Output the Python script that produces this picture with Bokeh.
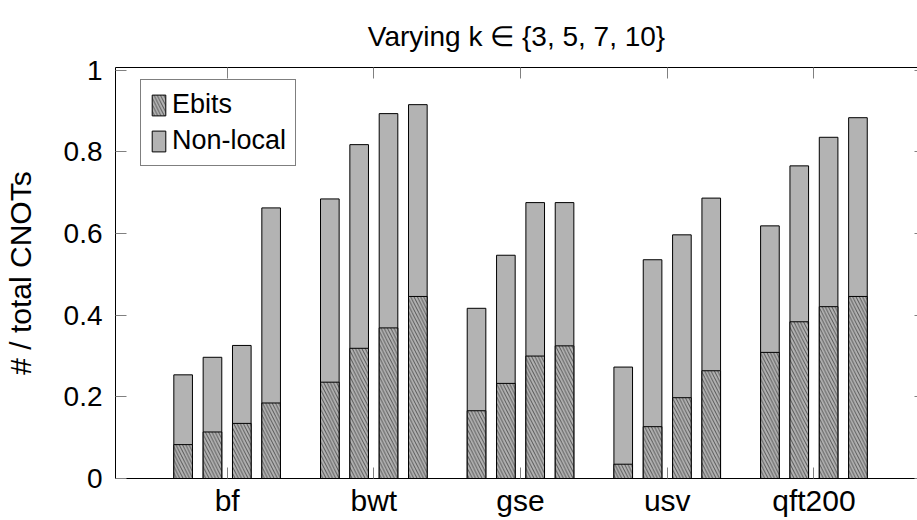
from bokeh.plotting import figure
from bokeh.models import (Range1d, FixedTicker, LinearAxis, Legend, LegendItem,
                          ColumnDataSource)
from bokeh.embed import file_html
from bokeh.resources import INLINE

# ---- data ----
categories = ["bf", "bwt", "gse", "usv", "qft200"]
k_values = [3, 5, 7, 10]
nonlocal_vals = [
    [0.254, 0.297, 0.326, 0.663],   # bf
    [0.685, 0.818, 0.894, 0.916],   # bwt
    [0.417, 0.547, 0.676, 0.676],   # gse
    [0.273, 0.536, 0.597, 0.687],   # usv
    [0.619, 0.766, 0.836, 0.884],   # qft200
]
ebits_vals = [
    [0.083, 0.114, 0.135, 0.185],
    [0.236, 0.319, 0.369, 0.446],
    [0.166, 0.233, 0.300, 0.325],
    [0.035, 0.127, 0.198, 0.264],
    [0.309, 0.384, 0.421, 0.446],
]
y_ticks = [0, 0.2, 0.4, 0.6, 0.8, 1.0]
y_tick_labels = ["0", "0.2", "0.4", "0.6", "0.8", "1"]

FONT = "Liberation Sans"
GRAY = "#b3b3b3"
offsets = [-0.3, -0.1, 0.1, 0.3]
bar_w = 0.127

xs, nl, eb = [], [], []
for gi, cat in enumerate(categories):
    for bi in range(len(k_values)):
        xs.append(gi + offsets[bi])
        nl.append(nonlocal_vals[gi][bi])
        eb.append(ebits_vals[gi][bi])
src = ColumnDataSource(dict(x=xs, nl=nl, eb=eb))

p = figure(width=917, height=520, output_backend="svg", toolbar_location=None,
           x_range=Range1d(-0.761, 4.706), y_range=Range1d(0, 1.007),
           min_border_left=115, min_border_right=0, min_border_top=67,
           min_border_bottom=42, title="Varying k \u2208 {3, 5, 7, 10}")
p.outline_line_color = None
p.xgrid.visible = False
p.ygrid.visible = False
p.background_fill_color = "white"
p.border_fill_color = "white"

p.title.text_font = FONT
p.title.text_font_style = "normal"
p.title.text_font_size = "28px"
p.title.align = "center"
p.title.text_color = "black"
p.title.standoff = 31

r_nl = p.vbar(x="x", top="nl", width=bar_w, source=src, fill_color=GRAY,
              line_color="black", line_width=1)
r_eb = p.vbar(x="x", top="eb", width=bar_w, source=src, fill_color=GRAY,
              line_color="black", line_width=1, hatch_pattern="\\",
              hatch_color="black", hatch_scale=6.5, hatch_weight=0.55)

# bottom axis
xa = p.xaxis[0]
xa.ticker = FixedTicker(ticks=list(range(len(categories))))
xa.major_label_overrides = {i: c for i, c in enumerate(categories)}
xa.major_tick_in = 11
xa.major_tick_out = 0
xa.minor_tick_line_color = None
xa.major_tick_line_color = "#808080"
xa.axis_line_color = "black"
xa.major_label_text_font = FONT
xa.major_label_text_font_size = "30px"
xa.major_label_text_color = "black"
xa.major_label_standoff = 5

# left axis
ya = p.yaxis[0]
ya.ticker = FixedTicker(ticks=y_ticks)
ya.major_label_overrides = {t: l for t, l in zip(y_ticks, y_tick_labels)}
ya.major_tick_in = 11
ya.major_tick_out = 0
ya.minor_tick_line_color = None
ya.major_tick_line_color = "#808080"
ya.axis_line_color = "black"
ya.major_label_text_font = FONT
ya.major_label_text_font_size = "28px"
ya.major_label_text_color = "black"
ya.major_label_standoff = 13
ya.axis_label = "# / total CNOTs"
ya.axis_label_text_font = FONT
ya.axis_label_text_font_style = "normal"
ya.axis_label_text_font_size = "30px"
ya.axis_label_text_color = "black"
ya.axis_label_standoff = 24

# top axis (mirror ticks, as minor ticks so no labels are drawn)
ta = LinearAxis(ticker=FixedTicker(ticks=[], minor_ticks=list(range(len(categories)))),
                major_tick_in=0, major_tick_out=0,
                minor_tick_in=11, minor_tick_out=0,
                minor_tick_line_color="#808080", axis_line_color="black")
p.add_layout(ta, "above")

# right axis (short mirror ticks at the cut edge)
ra = LinearAxis(ticker=FixedTicker(ticks=[], minor_ticks=y_ticks),
                major_tick_in=0, major_tick_out=0,
                minor_tick_in=3, minor_tick_out=0,
                minor_tick_line_color="#808080", axis_line_color=None)
p.add_layout(ra, "right")

legend = Legend(items=[LegendItem(label="Ebits", renderers=[r_eb]),
                       LegendItem(label="Non-local", renderers=[r_nl])],
                location=(25, 312))
legend.label_text_font = FONT
legend.label_text_font_size = "27px"
legend.label_text_color = "black"
legend.glyph_width = 17
legend.glyph_height = 26
legend.label_height = 26
legend.spacing = 5
legend.padding = 9
legend.label_standoff = 5
legend.border_line_color = "black"
legend.border_line_width = 1
legend.background_fill_alpha = 1.0
p.add_layout(legend)

open("out.html", "w").write(file_html(p, INLINE))
